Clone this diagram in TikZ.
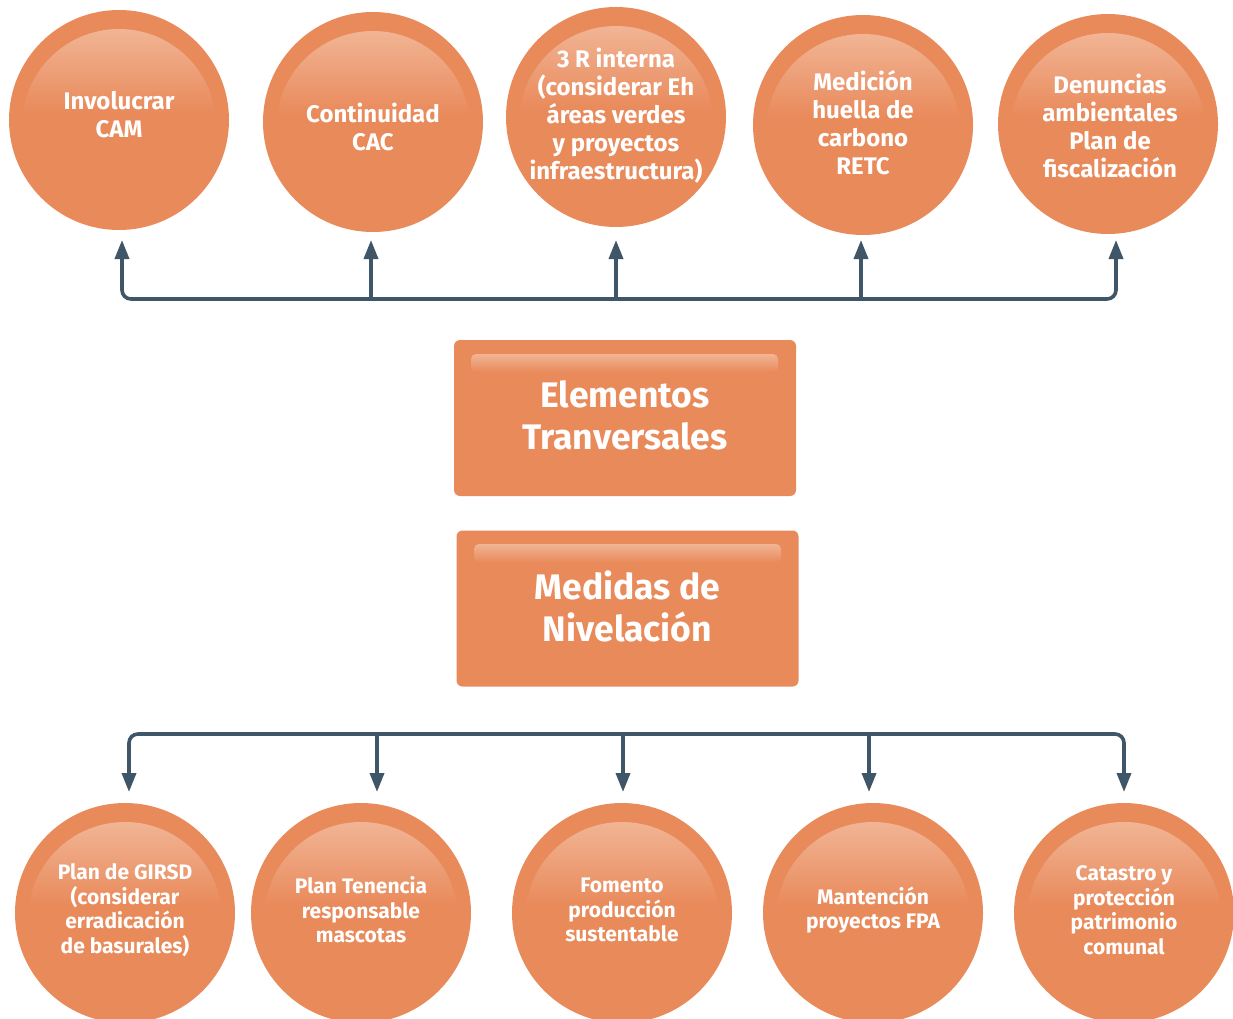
\documentclass[tikz,border=0pt]{standalone}
\usepackage{fontspec}
\setmainfont{Fira Sans}
\usetikzlibrary{arrows.meta}

\definecolor{orangebase}{HTML}{E98A5B}
\definecolor{orangelight}{HTML}{F1B595}
\definecolor{linkcol}{HTML}{3F5668}

\tikzset{
  bubble/.style={circle, fill=orangebase, draw=none, minimum size=220pt, inner sep=0pt},
  panel/.style={rectangle, rounded corners=6pt, fill=orangebase, draw=none,
                minimum width=342pt, minimum height=156pt, inner sep=0pt},
  toptext/.style={text=white, align=center, font=\bfseries\fontsize{24}{28}\selectfont},
  bottext/.style={text=white, align=center, font=\bfseries\fontsize{21}{24.5}\selectfont},
  paneltext/.style={text=white, align=center, font=\bfseries\fontsize{35.5}{42}\selectfont},
  link/.style={draw=linkcol, line width=3.6pt, rounded corners=9pt},
  linkarrow/.style={draw=linkcol, line width=3.6pt,
                    -{Triangle[length=19pt,width=14pt]}},
}

% glossy disc: name, x, y
\newcommand{\drawbubble}[3]{%
  \node[bubble] (#1) at (#2,#3) {};
  \begin{scope}
    \clip (#2,#3+6) circle (97);
    \shade[top color=orangelight, bottom color=orangebase]
      (#2-110,#3-92) rectangle (#2+110,#3-8);
  \end{scope}
}

% glossy panel highlight: x1, y1, x2, y2
\newcommand{\panelgloss}[4]{%
  \shade[top color=orangelight, bottom color=orangebase, rounded corners=5pt]
    (#1,#2) rectangle (#3,#4);
}

\begin{document}
\begin{tikzpicture}[x=1pt,y=-1pt]
\useasboundingbox (0,0) rectangle (1233,1019);
\fill[white] (0,0) rectangle (1233,1019);
\clip (0,0) rectangle (1233,1019);

% ---- upper row of discs
\drawbubble{t1}{119}{120}
\drawbubble{t2}{373}{122}
\drawbubble{t3}{616}{117}
\drawbubble{t4}{863}{125}
\drawbubble{t5}{1108}{124}

\node[toptext] at (119,115) {Involucrar\\CAM};
\node[toptext] at (373,127) {Continuidad\\CAC};
\node[toptext] at (616,116) {3 R interna\\(considerar Eh\\áreas verdes\\y proyectos\\infraestructura)};
\node[toptext] at (863,123) {Medición\\huella de\\carbono\\RETC};
\node[toptext] at (1110,126) {Denuncias\\ambientales\\Plan de\\fiscalización};

% ---- central panels
\node[panel] (et) at (625,418) {};
\panelgloss{471}{354}{778}{372}
\node[paneltext] at (625,415) {Elementos\\Tranversales};

\node[panel] (mn) at (627.5,608.5) {};
\panelgloss{474}{544}{781}{562}
\node[paneltext] at (627.5,606) {Medidas de\\Nivelación};

% ---- lower row of discs
\drawbubble{b1}{125}{913}
\drawbubble{b2}{361}{913}
\drawbubble{b3}{622}{913}
\drawbubble{b4}{873}{913}
\drawbubble{b5}{1124}{913}

\node[bottext] at (125,910) {Plan de GIRSD\\(considerar\\erradicación\\de basurales)};
\node[bottext] at (361,910) {Plan Tenencia\\responsable\\mascotas};
\node[bottext] at (622,910) {Fomento\\producción\\sustentable};
\node[bottext] at (873,910) {Mantención\\proyectos FPA};
\node[bottext] at (1124,910) {Catastro y\\protección\\patrimonio\\comunal};

% ---- upper connector bus
\coordinate (ua) at (122,280);
\coordinate (ub) at (371,299);
\coordinate (uc) at (616,299);
\coordinate (ud) at (861,299);
\coordinate (ue) at (1116,280);
\draw[link] (ua) -- (122,299) -- (1116,299) -- (ue);
\foreach \c/\x in {ua/122, ub/371, uc/616, ud/861, ue/1116}
  \draw[linkarrow] (\c) -- (\x,240);

% ---- lower connector bus
\coordinate (la) at (129,752);
\coordinate (lb) at (377,734);
\coordinate (lc) at (623,734);
\coordinate (ld) at (869,734);
\coordinate (le) at (1124,752);
\draw[link] (la) -- (129,734) -- (1124,734) -- (le);
\foreach \c/\x in {la/129, lb/377, lc/623, ld/869, le/1124}
  \draw[linkarrow] (\c) -- (\x,792);
\end{tikzpicture}
\end{document}
